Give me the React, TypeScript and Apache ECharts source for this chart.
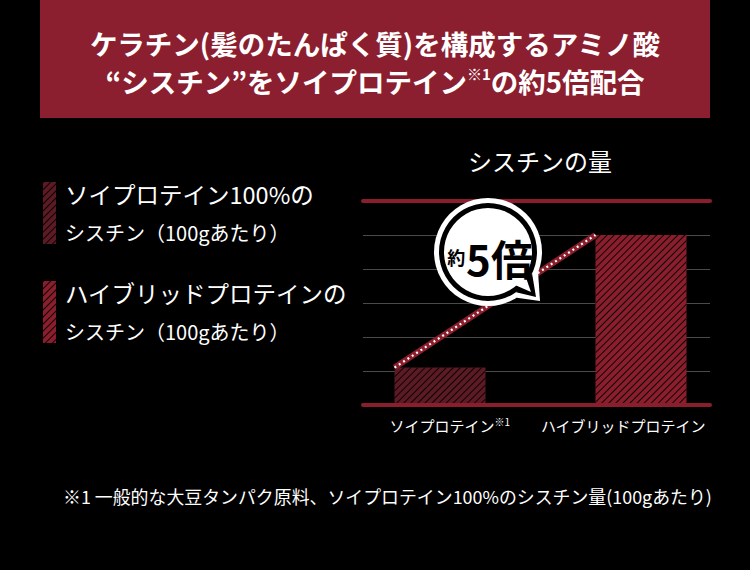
import React, { useEffect, useRef } from "react";
import * as echarts from "echarts";

const FONT = '"Noto Sans CJK JP", "Noto Sans", sans-serif';

// ---- data ----
const categories = ["ソイプロテイン", "ハイブリッドプロテイン"];
const categorySup = ["※1", ""];
const cystineValues = [1.1, 5.0];
const legendLine1 = ["ソイプロテイン100%の", "ハイブリッドプロテインの"];
const legendLine2 = ["シスチン（100gあたり）", "シスチン（100gあたり）"];
const barColors = ["#5c1a24", "#8b1e2d"];
const yMin = 0;
const yMax = 6;
const yInterval = 1;
const titleLine1 = "ケラチン(髪のたんぱく質)を構成するアミノ酸";
const titleLine2Parts = ["“シスチン”をソイプロテイン", "※1", "の約5倍配合"];
const chartTitle = "シスチンの量";
const badgeSmall = "約";
const badgeBig = "5倍";
const footnote = "※1 一般的な大豆タンパク原料、ソイプロテイン100%のシスチン量(100gあたり)";

const RED = "#8b1e2d";
const BAR_WIDTH = 91;

export default function App() {
  const ref = useRef<HTMLDivElement | null>(null);

  useEffect(() => {
    document.body.style.margin = "0";
    document.body.style.background = "#000";
    if (!ref.current) return;
    const chart = echarts.init(ref.current, null, { renderer: "svg" });

    const decal = {
      symbol: "rect",
      dashArrayX: [1, 0],
      dashArrayY: [1, 4],
      rotation: -Math.PI / 4,
      color: "rgba(0,0,0,0.9)",
    };

    const series = categories.map((name, i) => ({
      name,
      type: "bar",
      xAxisIndex: 1,
      yAxisIndex: 1,
      stack: "total",
      barWidth: BAR_WIDTH,
      itemStyle: { color: barColors[i], decal },
      data: cystineValues.map((v, j) => (j === i ? v : "-")),
    }));

    const option: any = {
      animation: false,
      backgroundColor: "#000",
      textStyle: { fontFamily: FONT },
      title: {
        text: chartTitle,
        left: 535,
        top: 143,
        textAlign: "center",
        textStyle: { color: "#fff", fontSize: 24, fontWeight: "normal", fontFamily: FONT },
      },
      legend: {
        orient: "vertical",
        left: 43,
        top: 182,
        padding: 0,
        itemWidth: 13,
        itemHeight: 62,
        itemGap: 37,
        icon: "rect",
        selectedMode: false,
        data: categories,
        formatter: (name: string) => {
          const i = categories.indexOf(name);
          return `{a|${legendLine1[i]}}\n{b|${legendLine2[i]}}`;
        },
        textStyle: {
          color: "#fff",
          fontFamily: FONT,
          rich: {
            a: { fontSize: 23.5, lineHeight: 38, color: "#fff", fontFamily: FONT, padding: [0, 0, 0, 4] },
            b: { fontSize: 20, lineHeight: 38, color: "#fff", fontFamily: FONT, padding: [0, 0, 0, 4] },
          },
        },
      },
      grid: [
        { left: 363, top: 201, width: 347, height: 204 },
        { left: 339.5, top: 201, width: 402, height: 204 },
      ],
      xAxis: [
        {
          type: "category",
          gridIndex: 0,
          data: categories,
          z: 5,
          axisLine: { lineStyle: { color: RED, width: 4 } },
          axisTick: { show: false },
          axisLabel: {
            interval: 0,
            margin: 10,
            formatter: (value: string, idx: number) =>
              categorySup[idx] ? `{m|${value}}{s|${categorySup[idx]}}` : `{m|${value}}`,
            rich: {
              m: { fontSize: 15, color: "#fff", fontFamily: FONT, lineHeight: 20 },
              s: { fontSize: 10, color: "#fff", fontFamily: FONT, padding: [0, 0, 8, 0] },
            },
          },
        },
        {
          type: "category",
          gridIndex: 1,
          data: categories,
          show: false,
        },
        {
          type: "category",
          gridIndex: 0,
          position: "top",
          data: categories,
          z: 5,
          axisLine: { lineStyle: { color: RED, width: 4 } },
          axisTick: { show: false },
          axisLabel: { show: false },
        },
      ],
      yAxis: [
        {
          type: "value",
          gridIndex: 0,
          min: yMin,
          max: yMax,
          interval: yInterval,
          axisLine: { show: false },
          axisTick: { show: false },
          axisLabel: { show: false },
          splitLine: { lineStyle: { color: "#4a4a4a", width: 1 } },
        },
        {
          type: "value",
          gridIndex: 1,
          min: yMin,
          max: yMax,
          interval: yInterval,
          show: false,
          splitLine: { show: false },
        },
      ],
      series,
    };

    chart.setOption(option);

    const p1 = chart.convertToPixel({ xAxisIndex: 1, yAxisIndex: 1 } as any, [0, cystineValues[0]]) as number[];
    const p2 = chart.convertToPixel({ xAxisIndex: 1, yAxisIndex: 1 } as any, [1, cystineValues[1]]) as number[];
    const x1 = p1[0] - BAR_WIDTH / 2;
    const y1 = p1[1];
    const x2 = p2[0] - BAR_WIDTH / 2;
    const y2 = p2[1];

    const cx = 488;
    const cy = 252;
    const tail = (r: number, a1: number, a2: number, tip: number[]) => [
      [cx + r * Math.cos(a1), cy + r * Math.sin(a1)],
      [cx + tip[0], cy + tip[1]],
      [cx + r * Math.cos(a2), cy + r * Math.sin(a2)],
    ];
    const deg = Math.PI / 180;

    chart.setOption({
      graphic: [
        {
          type: "rect",
          z: 10,
          shape: { x: 40, y: 0, width: 670, height: 118 },
          style: { fill: "#8b1f2f" },
        },
        {
          type: "text",
          z: 11,
          x: 375,
          y: 43,
          style: {
            text: titleLine1,
            fill: "#fff",
            fontSize: 27.5,
            fontWeight: "bold",
            fontFamily: FONT,
            align: "center",
            verticalAlign: "middle",
          },
        },
        {
          type: "text",
          z: 11,
          x: 375,
          y: 81,
          style: {
            text: `{t|${titleLine2Parts[0]}}{s|${titleLine2Parts[1]}}{t|${titleLine2Parts[2]}}`,
            fill: "#fff",
            fontFamily: FONT,
            align: "center",
            verticalAlign: "middle",
            rich: {
              t: { fontSize: 27.5, lineHeight: 30, fontWeight: "bold", fill: "#fff", fontFamily: FONT },
              s: { fontSize: 15, lineHeight: 15, verticalAlign: "top", fontWeight: "bold", fill: "#fff", fontFamily: FONT },
            },
          },
        },
        {
          type: "text",
          z: 11,
          x: 63,
          y: 496,
          style: {
            text: footnote,
            fill: "#fff",
            fontSize: 17.9,
            fontFamily: FONT,
            align: "left",
            verticalAlign: "middle",
          },
        },
        {
          type: "line",
          z: 20,
          shape: { x1, y1, x2, y2 },
          style: { stroke: RED, lineWidth: 6 },
        },
        {
          type: "line",
          z: 21,
          shape: { x1, y1, x2, y2 },
          style: { stroke: "#fff", lineWidth: 2.2, lineDash: [2, 3.2] },
        },
        { type: "circle", z: 30, shape: { cx, cy, r: 54 }, style: { fill: "#fff" } },
        { type: "polygon", z: 30, shape: { points: tail(54, 22 * deg, 58 * deg, [52, 49]) }, style: { fill: "#fff" } },
        { type: "circle", z: 31, shape: { cx, cy, r: 49 }, style: { fill: "#000" } },
        { type: "polygon", z: 31, shape: { points: tail(49, 26 * deg, 55 * deg, [48, 45]) }, style: { fill: "#000" } },
        { type: "circle", z: 32, shape: { cx, cy, r: 44 }, style: { fill: "#fff" } },
        { type: "polygon", z: 32, shape: { points: tail(42, 30 * deg, 51 * deg, [43, 40]) }, style: { fill: "#fff" } },
        {
          type: "text",
          z: 33,
          x: 490,
          y: 257,
          style: {
            text: `{a|${badgeSmall}}{b|${badgeBig}}`,
            align: "center",
            verticalAlign: "middle",
            fontFamily: FONT,
            rich: {
              a: { fontSize: 18, fontWeight: "bold", fill: "#000", fontFamily: FONT, padding: [0, 1, 0, 0] },
              b: { fontSize: 42, fontWeight: "bold", fill: "#000", fontFamily: FONT },
            },
          },
        },
      ],
    });

    return () => {
      chart.dispose();
    };
  }, []);

  return <div ref={ref} style={{ width: 750, height: 570, background: "#000" }} />;
}
